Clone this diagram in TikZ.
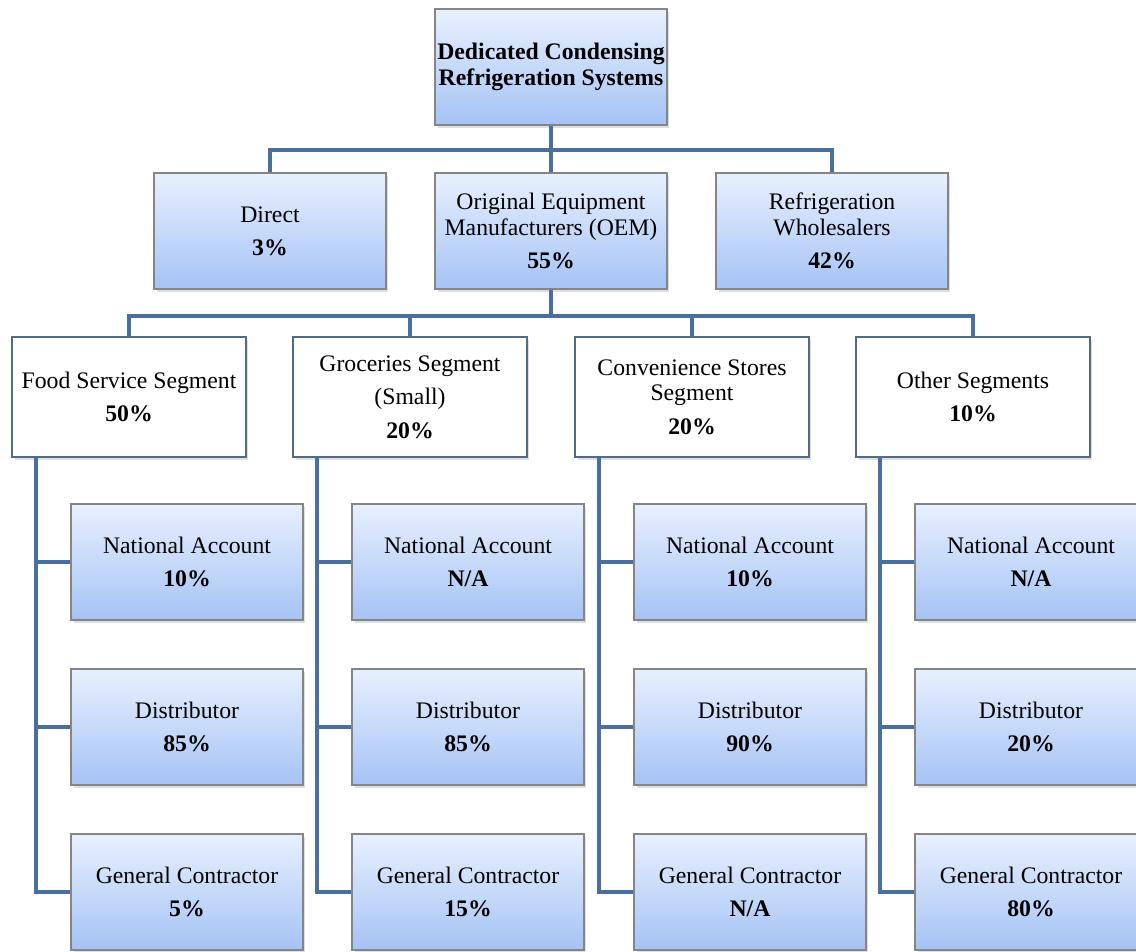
\documentclass[tikz,border=0pt]{standalone}
\usepackage{fontspec}
\setmainfont{Liberation Serif}
\usetikzlibrary{shapes, positioning, shadows}
\definecolor{BoxTop}{HTML}{E8F0FE}
\definecolor{BoxBottom}{HTML}{A5C3F5}
\definecolor{BoxLine}{HTML}{858585}
\definecolor{SegLine}{HTML}{536A86}
\definecolor{LinkBlue}{HTML}{4A6E9E}

\begin{document}
\begin{tikzpicture} [
			x=0.02cm, y=-0.02cm,
			every node/.style={align=center,rectangle,inner sep=0pt,font=\fontsize{13.5}{14.5}\selectfont},
			blue box/.style={draw=BoxLine,line width=0.8pt,top color=BoxTop,bottom color=BoxBottom,minimum width=4.64cm,minimum height=2.32cm,drop shadow={opacity=0.25,shadow xshift=0.5mm,shadow yshift=-0.6mm}},
			seg/.style={draw=SegLine,line width=1.4pt,fill=white,minimum width=4.68cm,minimum height=2.4cm,drop shadow={opacity=0.25,shadow xshift=0.5mm,shadow yshift=-0.6mm}},
			link/.style={draw=LinkBlue,line width=2.8pt}
		]
			\useasboundingbox (0,0) rectangle (1136,951);
			% top level
			\node at (551,67) [blue box] (drcs) {\textbf{Dedicated Condensing}\\\textbf{Refrigeration Systems}};
			% channels
			\node at (270,231) [blue box] (direct) {Direct\\[4.5pt]\textbf{3\%}};
			\node at (551,231) [blue box] (oem) {Original Equipment\\Manufacturers (OEM)\\[4.5pt]\textbf{55\%}};
			\node at (832,231) [blue box] (wholesale) {Refrigeration\\Wholesalers\\[4.5pt]\textbf{42\%}};
			% segments
			\node at (129,397) [seg] (food) {Food Service Segment\\[4.5pt]\textbf{50\%}};
			\node at (410,397) [seg] (groc) {Groceries Segment\\[4.5pt](Small)\\[4.5pt]\textbf{20\%}};
			\node at (692,397) [seg] (conv) {Convenience Stores\\Segment\\[4.5pt]\textbf{20\%}};
			\node at (973,397) [seg] (other) {Other Segments\\[4.5pt]\textbf{10\%}};
			% food service
			\node at (187,562) [blue box] (foodNat) {National Account\\[4.5pt]\textbf{10\%}};
			\node at (187,727) [blue box] (foodDist) {Distributor\\[4.5pt]\textbf{85\%}};
			\node at (187,892) [blue box] (foodGen) {General Contractor\\[4.5pt]\textbf{5\%}};
			% groceries
			\node at (468,562) [blue box] (grocNat) {National Account\\[4.5pt]\textbf{N/A}};
			\node at (468,727) [blue box] (grocDist) {Distributor\\[4.5pt]\textbf{85\%}};
			\node at (468,892) [blue box] (grocGen) {General Contractor\\[4.5pt]\textbf{15\%}};
			% convenience stores
			\node at (750,562) [blue box] (convNat) {National Account\\[4.5pt]\textbf{10\%}};
			\node at (750,727) [blue box] (convDist) {Distributor\\[4.5pt]\textbf{90\%}};
			\node at (750,892) [blue box] (convGen) {General Contractor\\[4.5pt]\textbf{N/A}};
			% other segments
			\node at (1031,562) [blue box] (otherNat) {National Account\\[4.5pt]\textbf{N/A}};
			\node at (1031,727) [blue box] (otherDist) {Distributor\\[4.5pt]\textbf{20\%}};
			\node at (1031,892) [blue box] (otherGen) {General Contractor\\[4.5pt]\textbf{80\%}};
			% bus points
			\coordinate (bus1) at (551,150);
			\coordinate (bus2) at (551,316);
			\coordinate (foodSpine) at (36,457);
			\coordinate (grocSpine) at (317,457);
			\coordinate (convSpine) at (599,457);
			\coordinate (otherSpine) at (880,457);
			\path[link] (drcs.south) -- (oem.north);
			\path[link] (direct.north) |- (bus1) -| (wholesale.north);
			\path[link] (oem.south) -- (bus2);
			\path[link] (food.north) |- (bus2) -| (other.north);
			\path[link] (groc.north) -- (groc.north |- bus2);
			\path[link] (conv.north) -- (conv.north |- bus2);
			\path[link] (foodSpine) |- (foodGen.west);
			\path[link] (foodSpine |- foodNat.west) -- (foodNat.west);
			\path[link] (foodSpine |- foodDist.west) -- (foodDist.west);
			\path[link] (grocSpine) |- (grocGen.west);
			\path[link] (grocSpine |- grocNat.west) -- (grocNat.west);
			\path[link] (grocSpine |- grocDist.west) -- (grocDist.west);
			\path[link] (convSpine) |- (convGen.west);
			\path[link] (convSpine |- convNat.west) -- (convNat.west);
			\path[link] (convSpine |- convDist.west) -- (convDist.west);
			\path[link] (otherSpine) |- (otherGen.west);
			\path[link] (otherSpine |- otherNat.west) -- (otherNat.west);
			\path[link] (otherSpine |- otherDist.west) -- (otherDist.west);
		\end{tikzpicture}
\end{document}
